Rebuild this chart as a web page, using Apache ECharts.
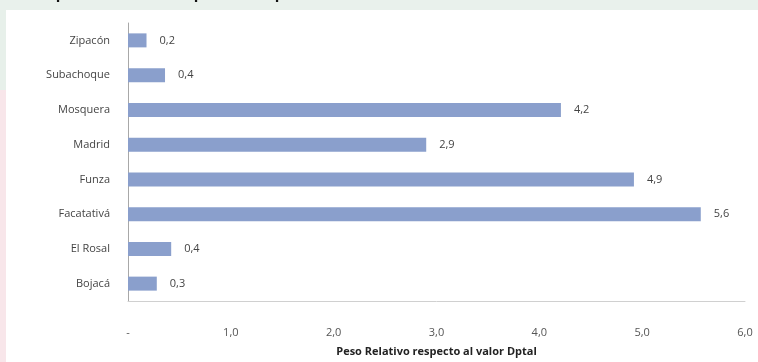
<!DOCTYPE html>
<html>
<head>
<meta charset="utf-8">
<script src="https://cdn.jsdelivr.net/npm/echarts@6/dist/echarts.min.js"></script>
<style>
  html, body { margin: 0; padding: 0; background: #fff; }
  #chart { width: 758px; height: 362px; }
</style>
</head>
<body>
<div id="chart"></div>
<script>
  // municipios, de abajo hacia arriba
  var municipios = ['Bojacá', 'El Rosal', 'Facatativá', 'Funza', 'Madrid', 'Mosquera', 'Subachoque', 'Zipacón'];
  var pesoRelativo = [0.28, 0.42, 5.57, 4.92, 2.9, 4.21, 0.36, 0.18];
  var ticksX = [0, 1, 2, 3, 4, 5, 6];

  function coma(v) {
    return v.toFixed(1).replace('.', ',');
  }

  var chart = echarts.init(document.getElementById('chart'));
  var option = {
    backgroundColor: '#ffffff',
    animation: false,
    textStyle: { fontFamily: 'Open Sans, DejaVu Sans, sans-serif' },
    graphic: [
      { type: 'rect', shape: { x: 0, y: 0, width: 758, height: 10 }, style: { fill: '#e9f1ec' }, z: -1 },
      { type: 'rect', shape: { x: 0, y: 10, width: 6, height: 80 }, style: { fill: '#e7f0ea' }, z: -1 },
      { type: 'rect', shape: { x: 0, y: 90, width: 6, height: 272 }, style: { fill: '#f8e6ea' }, z: -1 },
      {
        type: 'text', left: 36, top: -13,
        style: { text: 'Importancia relativa por municipio de Sabana Occidente', font: 'bold 15px Open Sans, sans-serif', fill: '#111' }
      }
    ],
    grid: { left: 128, right: 13, top: 23, bottom: 58 },
    xAxis: {
      type: 'value',
      min: ticksX[0],
      max: ticksX[ticksX.length - 1],
      interval: 1,
      name: 'Peso Relativo respecto al valor Dptal',
      nameLocation: 'middle',
      nameGap: 45,
      nameTextStyle: { fontSize: 11, fontWeight: 'bold', color: '#222' },
      axisLine: { show: true, lineStyle: { color: '#d0d0d0' } },
      axisTick: { show: false },
      splitLine: { show: false },
      axisLabel: {
        margin: 26,
        fontSize: 11,
        color: '#555',
        formatter: function (v) { return v === 0 ? '-' : coma(v); }
      }
    },
    yAxis: {
      type: 'category',
      data: municipios,
      axisLine: { show: true, lineStyle: { color: '#a8a8a8' } },
      axisTick: { show: false },
      axisLabel: { margin: 18, fontSize: 11, color: '#444' }
    },
    series: [{
      type: 'bar',
      data: pesoRelativo,
      barWidth: 14,
      itemStyle: { color: '#8a9fcc' },
      label: {
        show: true,
        position: 'right',
        distance: 13,
        fontSize: 11,
        color: '#444',
        formatter: function (p) { return coma(p.value); }
      }
    }]
  };
  chart.setOption(option);
</script>
</body>
</html>
